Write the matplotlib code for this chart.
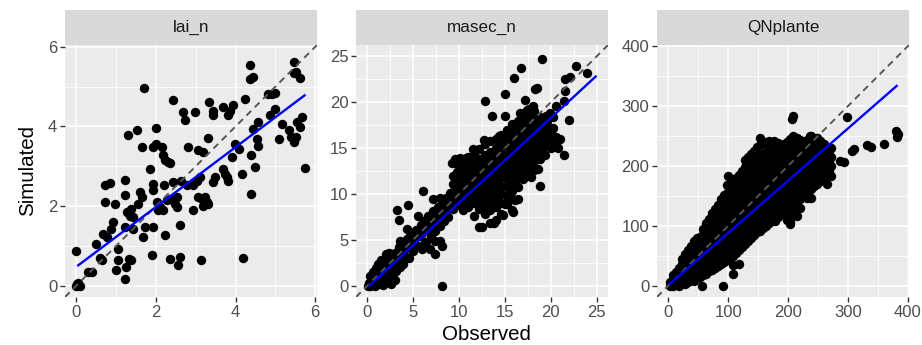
import matplotlib
matplotlib.use("Agg")
import matplotlib.pyplot as plt
import numpy as np
from matplotlib.ticker import MultipleLocator

plt.rcParams['font.family'] = ['Liberation Sans', 'DejaVu Sans']

panel_titles = ["lai_n", "masec_n", "QNplante"]
x_title = "Observed"
y_title = "Simulated"

# ---------------- lai_n (observed, simulated) ----------------
lai_pairs = [
    (0, 0.88), (0.02, 0.03), (0.0, 0.0), (0.05, 0.02), (0.03, 0.06), (0.08, 0.0),
    (0.29, 0.34), (0.38, 0.34), (0.5, 1.05), (0.6, 0.7), (0.63, 0.63),
    (0.71, 2.52), (0.84, 2.58), (0.71, 2.1), (0.67, 1.3), (0.76, 1.22), (0.92, 1.6),
    (0.88, 1.43), (0.96, 2.04), (1.05, 0.92), (1.05, 0.63), (1.0, 0.38), (1.22, 0.17),
    (1.24, 0.46), (1.33, 0.67), (1.38, 0.63), (1.22, 2.66), (1.22, 2.27), (1.3, 3.78),
    (1.51, 3.9), (1.26, 1.85), (1.38, 1.93), (1.34, 1.76), (1.22, 1.47), (1.43, 1.43),
    (1.43, 1.72), (1.55, 2.06), (1.64, 3.48), (1.61, 2.35), (1.64, 2.22), (1.68, 1.22),
    (1.72, 1.47), (1.7, 4.97), (1.93, 1.47), (1.91, 0.76), (1.85, 2.94), (1.93, 2.56),
    (1.93, 2.39), (1.93, 3.48), (2.01, 3.57), (2.0, 3.96), (2.03, 2.1), (2.1, 1.97),
    (2.06, 1.89), (2.18, 1.89), (2.14, 3.48), (2.18, 3.27), (2.22, 3.16), (2.31, 3.1),
    (2.35, 3.07), (2.2, 2.52), (2.22, 1.26), (2.27, 2.14), (2.35, 2.18), (2.35, 0.67),
    (2.42, 4.66), (2.43, 2.6), (2.52, 2.22), (2.47, 2.06), (2.52, 1.97), (2.55, 0.52),
    (2.6, 0.71), (2.6, 1.51), (2.68, 4.36), (2.73, 4.15), (2.64, 2.64), (2.81, 3.48),
    (2.77, 2.52), (2.98, 4.36), (2.92, 1.89), (2.94, 2.52), (3.02, 2.64), (3.1, 2.73),
    (3.06, 3.4), (3.19, 3.36), (3.06, 2.22), (3.15, 2.18), (3.23, 2.22), (3.13, 0.65),
    (3.19, 2.01), (3.27, 2.1), (3.31, 2.06), (3.31, 3.72), (3.34, 4.61), (3.44, 4.4),
    (3.44, 4.28), (3.44, 2.6), (3.48, 2.73), (3.69, 4.5), (3.86, 4.4), (3.82, 4.28),
    (3.94, 4.53), (3.69, 2.94), (3.73, 2.81), (3.78, 2.73), (3.8, 2.64), (3.9, 3.23),
    (3.98, 3.57), (4.09, 3.44), (4.15, 2.81), (4.18, 0.69), (4.24, 4.7), (4.36, 5.54),
    (4.36, 5.2), (4.45, 5.24), (4.38, 2.31), (4.4, 3.27), (4.45, 3.94), (4.49, 2.98),
    (4.53, 3.69), (4.57, 3.52), (4.57, 4.11), (4.82, 4.82), (4.91, 4.82), (4.99, 4.84),
    (4.87, 4.28), (4.99, 4.45), (5.1, 3.69), (5.16, 4.07), (5.34, 3.9), (5.39, 3.73),
    (5.47, 3.61), (5.52, 3.73), (5.47, 5.62), (5.47, 5.34), (5.52, 5.37), (5.62, 5.23),
    (5.54, 4.11), (5.66, 4.24), (5.62, 3.98), (5.75, 2.95),
]
lai_obs = [p[0] for p in lai_pairs]
lai_sim = [p[1] for p in lai_pairs]

# ---------------- masec_n (observed, simulated) ----------------
masec_pairs = [
    (0.1, 0.0), (0.2, 0.3), (0.3, 0.0), (0.4, 0.5), (0.5, 0.1), (0.6, 0.8), (0.7, 0.3),
    (0.8, 0.0), (0.9, 1.1), (1.0, 0.5), (1.1, 1.5), (1.2, 0.2), (1.2, 0.9), (1.3, 1.8),
    (1.4, 0.6), (1.5, 1.3), (1.6, 2.1), (1.7, 0.1), (1.7, 0.9), (1.8, 1.6), (1.9, 2.5),
    (2.0, 0.4), (2.0, 1.2), (2.1, 2.0), (2.2, 2.8), (2.3, 0.8), (2.4, 1.6), (2.5, 2.4),
    (2.6, 3.3), (2.6, 0.2), (2.7, 1.2), (2.8, 2.0), (2.9, 2.9), (3.0, 3.6), (3.0, 0.6),
    (3.1, 1.6), (3.2, 2.5), (3.3, 3.3), (3.4, 4.2), (3.5, 2.0), (3.6, 2.9), (3.7, 3.7),
    (3.8, 4.6), (3.9, 2.4), (4.0, 3.3), (0.3, 1.0), (0.6, 1.5), (0.9, 1.9), (1.2, 2.4),
    (1.5, 2.8), (2.0, 3.4),
    (4.2, 4.1), (4.3, 5.1), (4.5, 3.0), (4.6, 4.5), (4.8, 5.6), (5.0, 3.8), (5.1, 4.9),
    (5.3, 6.1), (5.5, 4.3), (5.6, 5.4), (5.8, 6.6), (6.0, 4.0), (6.0, 5.7), (6.2, 7.0),
    (6.4, 4.8), (6.5, 6.2), (6.7, 7.6), (6.9, 5.4), (7.0, 6.7), (7.2, 8.1), (7.4, 4.9),
    (7.4, 6.0), (7.5, 7.3), (7.7, 8.6), (7.9, 6.5), (8.0, 7.8), (8.1, 4.3), (8.2, 9.1),
    (8.4, 7.0), (8.5, 8.3), (8.6, 9.6), (8.8, 7.5), (8.9, 8.8), (9.0, 10.1),
    (3.2, 8.2), (3.4, 7.2), (4.4, 8.8), (5.5, 7.6), (6.1, 10.3), (7.2, 9.4), (7.9, 9.6),
    (8.6, 9.1), (6.6, 7.6), (7.0, 7.2), (5.3, 5.8), (4.3, 6.2), (4.6, 5.4), (3.5, 4.9),
    (2.4, 3.6), (6.3, 4.7), (6.8, 4.0), (7.4, 3.4), (7.9, 4.9), (6.4, 6.5), (7.2, 6.7),
    (8.1, 0.0),
    (9.3, 8.4), (9.3, 9.3), (9.3, 10.2), (9.3, 11.1), (9.3, 12.0),
    (9.8, 8.8), (9.8, 9.7), (9.8, 10.6), (9.8, 11.5), (9.8, 12.4), (9.8, 13.3),
    (10.4, 8.2), (10.4, 9.1), (10.4, 10.0), (10.4, 10.9), (10.4, 11.8), (10.4, 12.7), (10.4, 13.6),
    (11.0, 8.6), (11.0, 9.5), (11.0, 10.4), (11.0, 11.3), (11.0, 12.2), (11.0, 13.1), (11.0, 14.0),
    (11.6, 7.6), (11.6, 9.0), (11.6, 9.9), (11.6, 10.8), (11.6, 11.7), (11.6, 12.6), (11.6, 13.5),
    (11.6, 14.4),
    (12.2, 6.4), (12.2, 8.4), (12.2, 9.3), (12.2, 10.2), (12.2, 11.1), (12.2, 12.0), (12.2, 12.9),
    (12.2, 13.8), (12.2, 14.9),
    (12.8, 7.8), (12.8, 8.8), (12.8, 9.7), (12.8, 10.6), (12.8, 11.5), (12.8, 12.4), (12.8, 13.3),
    (12.8, 14.2), (12.8, 15.4),
    (13.4, 6.8), (13.4, 8.2), (13.4, 9.2), (13.4, 10.1), (13.4, 11.0), (13.4, 11.9), (13.4, 12.8),
    (13.4, 13.7), (13.4, 14.6), (13.4, 15.8),
    (14.0, 7.2), (14.0, 8.6), (14.0, 9.6), (14.0, 10.5), (14.0, 11.4), (14.0, 12.3), (14.0, 13.2),
    (14.0, 14.1), (14.0, 15.0), (14.0, 16.0),
    (14.6, 7.8), (14.6, 9.0), (14.6, 10.0), (14.6, 10.9), (14.6, 11.8), (14.6, 12.7), (14.6, 13.6),
    (14.6, 14.5), (14.6, 15.4), (14.6, 16.4),
    (15.2, 8.9), (15.2, 9.8), (15.2, 10.7), (15.2, 11.6), (15.2, 12.5), (15.2, 13.4), (15.2, 14.3),
    (15.2, 15.2), (15.2, 16.1), (15.2, 17.0),
    (15.8, 8.2), (15.8, 9.4), (15.8, 10.3), (15.8, 11.2), (15.8, 12.1), (15.8, 13.0), (15.8, 13.9),
    (15.8, 14.8), (15.8, 15.7), (15.8, 16.6), (15.8, 17.6),
    (16.4, 9.4), (16.4, 10.8), (16.4, 11.7), (16.4, 12.6), (16.4, 13.5), (16.4, 14.4), (16.4, 15.3),
    (16.4, 16.2), (16.4, 17.1), (16.4, 18.0),
    (17.0, 11.6), (17.0, 12.4), (17.0, 13.3), (17.0, 14.2), (17.0, 15.1), (17.0, 16.0), (17.0, 16.9),
    (17.0, 17.8), (17.0, 18.7),
    (17.6, 12.2), (17.6, 13.0), (17.6, 13.9), (17.6, 14.8), (17.6, 15.7), (17.6, 16.6), (17.6, 17.5),
    (17.6, 18.4), (17.6, 19.3),
    (18.2, 12.6), (18.2, 13.6), (18.2, 14.5), (18.2, 15.4), (18.2, 16.3), (18.2, 17.2), (18.2, 18.1),
    (18.2, 19.0),
    (18.8, 13.8), (18.8, 14.8), (18.8, 15.7), (18.8, 16.6), (18.8, 17.5), (18.8, 18.4),
    (19.4, 14.2), (19.4, 15.2), (19.4, 16.1), (19.4, 17.0), (19.4, 17.9),
    (20.0, 15.0), (20.0, 15.8), (20.0, 16.6), (20.6, 15.6), (20.6, 16.2),
    (20.2, 17.2), (20.8, 15.0), (21.0, 16.0), (21.5, 14.3), (20.3, 15.6), (19.6, 18.0),
    (9.2, 13.4), (9.5, 13.8), (10.1, 13.9), (10.8, 13.9), (11.5, 14.9), (12.7, 15.9),
    (14.4, 16.3), (15.9, 17.0), (16.6, 18.8), (17.4, 19.2), (18.1, 19.6), (19.5, 18.5),
    (19.9, 18.8), (20.6, 19.6),
    (19.0, 24.7), (22.8, 24.0), (24.0, 23.2), (21.6, 22.5), (22.1, 22.8), (16.8, 23.7),
    (16.0, 22.7), (15.0, 20.9), (12.8, 20.1), (18.3, 21.4), (18.5, 21.6), (17.2, 20.3),
    (21.6, 21.2), (21.5, 20.1), (22.0, 18.1), (13.6, 18.5), (15.0, 18.5),
    (18.8, 10.9), (15.9, 8.0), (14.8, 7.7), (13.8, 6.8), (15.0, 8.9), (16.1, 9.3),
    (13.2, 8.6), (12.5, 6.4), (16.8, 12.0), (17.9, 11.8), (18.6, 12.7), (17.4, 12.5),
    (17.7, 12.2), (19.9, 17.2), (20.3, 18.4),
]
masec_obs = [p[0] for p in masec_pairs]
masec_sim = [p[1] for p in masec_pairs]

# ---------------- QNplante (observed x, simulated values at that x) ----------------
qn_columns = [
    (3, [0, 6]), (8, [0, 9, 17]), (13, [2, 12, 22]), (18, [0, 10, 20, 30]),
    (23, [4, 14, 25, 36, 44]), (28, [2, 12, 23, 34, 46, 53]),
    (33, [6, 17, 28, 39, 50, 60]), (38, [10, 21, 32, 43, 54, 66]),
    (43, [8, 19, 30, 41, 52, 63, 74]), (48, [12, 23, 34, 45, 56, 67, 80]),
    (53, [15, 27, 38, 49, 60, 71, 81]), (56, [0]),
    (58, [18, 30, 41, 52, 63, 74, 86, 95]), (63, [20, 32, 43, 54, 65, 76, 87, 99, 104]),
    (68, [24, 35, 46, 57, 68, 79, 90, 101, 112]),
    (73, [26, 38, 49, 60, 71, 82, 93, 104, 116, 122]),
    (78, [29, 40, 52, 63, 74, 85, 96, 107, 118, 128]),
    (83, [33, 44, 55, 66, 77, 88, 99, 110, 121, 134]),
    (88, [36, 47, 58, 69, 80, 91, 102, 113, 124, 136, 145]), (92, [0]),
    (93, [40, 51, 62, 73, 84, 95, 106, 117, 128, 140, 152]),
    (98, [42, 54, 65, 76, 87, 98, 109, 120, 131, 142, 155, 168]), (100, [183]),
    (103, [46, 57, 68, 79, 90, 101, 112, 123, 134, 145, 157, 170]), (106, [175]),
    (108, [20, 35, 50, 61, 72, 83, 94, 105, 116, 127, 138, 149, 160, 176]),
    (113, [55, 66, 77, 88, 99, 110, 121, 132, 143, 154, 165, 180]),
    (118, [36, 60, 71, 82, 93, 104, 115, 126, 137, 148, 159, 170, 185]),
    (123, [65, 76, 87, 98, 109, 120, 131, 142, 153, 164, 175, 192]),
    (128, [70, 81, 92, 103, 114, 125, 136, 147, 158, 169, 180, 198, 210]),
    (133, [75, 86, 97, 108, 119, 130, 141, 152, 163, 174, 185, 200, 215]),
    (138, [80, 91, 102, 113, 124, 135, 146, 157, 168, 179, 190, 205, 220]),
    (143, [85, 96, 107, 118, 129, 140, 151, 162, 173, 184, 195, 210, 225]),
    (148, [90, 101, 112, 123, 134, 145, 156, 167, 178, 189, 200, 215, 232]),
    (153, [92, 103, 115, 126, 137, 148, 159, 170, 181, 192, 204, 218, 235, 246]),
    (158, [97, 108, 120, 131, 142, 153, 164, 175, 186, 197, 208, 220, 238]),
    (163, [100, 112, 124, 135, 146, 157, 168, 179, 190, 201, 212, 224, 240]),
    (168, [105, 117, 129, 140, 151, 162, 173, 184, 195, 206, 217, 229, 242]),
    (173, [110, 122, 134, 145, 156, 167, 178, 189, 200, 211, 222, 234]), (177, [242]),
    (178, [108, 120, 132, 144, 156, 167, 178, 189, 200, 211, 222, 232]),
    (183, [115, 127, 139, 150, 161, 172, 183, 194, 205, 216, 227, 238]),
    (188, [120, 132, 144, 155, 166, 177, 188, 199, 210, 221, 232]),
    (193, [125, 137, 149, 160, 171, 182, 193, 204, 215, 226, 236]),
    (198, [110, 128, 140, 152, 163, 174, 185, 196, 207, 218, 229, 240]),
    (204, [103, 108, 117, 130, 143, 155, 166, 177, 188, 199, 210, 221, 232, 245]),
    (206, [278]), (209, [283, 250]),
    (210, [120, 135, 148, 160, 171, 182, 193, 204, 215, 226, 237, 248]),
    (215, [117, 140, 152, 164, 175, 186, 197, 208, 219, 230, 247]),
    (220, [130, 145, 157, 169, 180, 191, 202, 213, 224, 236, 244]),
    (226, [150, 162, 174, 185, 196, 207, 218, 229, 240]),
    (232, [146, 155, 167, 179, 190, 201, 212, 223, 234, 244]),
    (238, [147, 161, 172, 184, 195, 206, 217, 228, 240, 250]),
    (243, [166, 178, 189, 200, 211, 222, 233, 245]),
    (248, [170, 182, 193, 204, 215, 226, 237, 246]),
    (254, [175, 187, 198, 209, 220, 231, 242]),
    (260, [180, 192, 203, 214, 225, 236]),
    (265, [169, 183, 192, 205, 216, 228]),
    (268, [192, 210, 225]), (271, [183, 200, 215, 230]),
    (236, [250]), (248, [246]), (254, [242]), (287, [209]), (293, [207]),
    (298, [281]), (307, [225]), (310, [228]), (332, [235]), (338, [232]),
    (360, [237]), (381, [258]), (383, [253]), (382, [248]),
]
qn_obs = [x for x, ys in qn_columns for _ in ys]
qn_sim = [y for _, ys in qn_columns for y in ys]

# linear-fit (geom_smooth, lm) line: start / end points
smooth_x_start = [0.02, 0.15, 1.1]
smooth_x_end = [5.76, 25.0, 383.0]
smooth_y_start = [0.49, -0.07, 1.7]
smooth_y_end = [4.80, 22.9, 335.0]

panel_obs = [lai_obs, masec_obs, qn_obs]
panel_sim = [lai_sim, masec_sim, qn_sim]
major_steps = [2, 5, 100]

# ---------------- layout ----------------
W, H = 922, 345
fig = plt.figure(figsize=(W / 100, H / 100), dpi=100)
lefts = [65, 356, 657]
pw = 252
ptop, pbot = 45, 297
strip_top = 10

for i in range(3):
    obs = np.array(panel_obs[i], dtype=float)
    sim = np.array(panel_sim[i], dtype=float)
    M = max(obs.max(), sim.max(), smooth_x_end[i])
    lo, hi = -0.05 * M, 1.05 * M

    ax = fig.add_axes([lefts[i] / W, (H - pbot) / H, pw / W, (pbot - ptop) / H])
    ax.set_facecolor('#EBEBEB')
    for s in ax.spines.values():
        s.set_visible(False)
    ax.set_xlim(lo, hi)
    ax.set_ylim(lo, hi)
    st = major_steps[i]
    ax.xaxis.set_major_locator(MultipleLocator(st))
    ax.yaxis.set_major_locator(MultipleLocator(st))
    ax.xaxis.set_minor_locator(MultipleLocator(st / 2))
    ax.yaxis.set_minor_locator(MultipleLocator(st / 2))
    ax.grid(which='major', color='white', linewidth=1.1)
    ax.grid(which='minor', color='white', linewidth=0.55)
    ax.set_axisbelow(True)
    ax.tick_params(which='major', length=3.5, width=1.0, color='#333333',
                   labelcolor='#4D4D4D', labelsize=12, pad=2)
    ax.tick_params(which='minor', length=0)

    ax.scatter(obs, sim, s=46, color='black', linewidths=0, zorder=3)
    ax.plot([lo, hi], [lo, hi], color='#555555', linewidth=1.4,
            dashes=(3.4, 2.6), zorder=4)
    ax.plot([smooth_x_start[i], smooth_x_end[i]],
            [smooth_y_start[i], smooth_y_end[i]],
            color='#0000FF', linewidth=1.7, zorder=5, solid_capstyle='butt')

    sax = fig.add_axes([lefts[i] / W, (H - ptop) / H, pw / W, (ptop - strip_top) / H])
    sax.set_facecolor('#D9D9D9')
    sax.set_xticks([])
    sax.set_yticks([])
    for s in sax.spines.values():
        s.set_visible(False)
    sax.text(0.5, 0.5, panel_titles[i], ha='center', va='center',
             fontsize=12.3, color='#1A1A1A', transform=sax.transAxes)

fig.text(486.5 / W, 1 - 335 / H, x_title, ha='center', va='center',
         fontsize=14.8, color='black')
fig.text(28 / W, 1 - 171 / H, y_title, ha='center', va='center',
         fontsize=14.8, color='black', rotation=90)

fig.savefig('out.png', dpi=100)
